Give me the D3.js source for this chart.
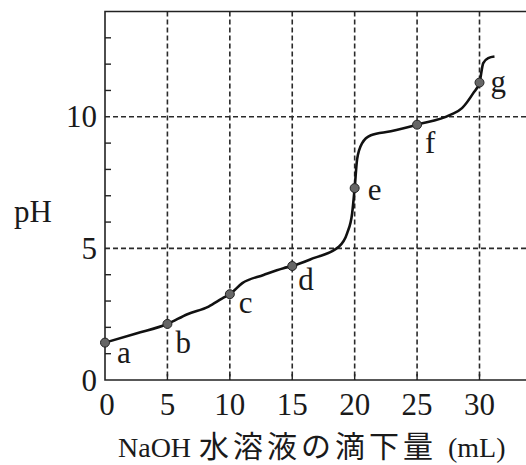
<!DOCTYPE html>
<html>
<head>
<meta charset="utf-8">
<script src="https://cdn.jsdelivr.net/npm/d3@7"></script>
<style>
    body { margin: 0; background: #fff; }
    svg { display: block; }
    .grid { stroke: #2a2a2a; stroke-width: 1.6; stroke-dasharray: 5,3; fill: none; }
    .frame { stroke: #222; stroke-width: 1.6; fill: none; }
    .tick { stroke: #222; stroke-width: 1.4; }
    .curve { stroke: #111; stroke-width: 2.6; fill: none; }
    .pt { fill: #666; stroke: #222; stroke-width: 1; }
    text { font-family: "Liberation Serif", "Times New Roman", serif; fill: #1a1a1a; }
</style>
</head>
<body>
<div id="chart"></div>
<script>
// titration curve
var volume = [0, 2.5, 5, 6.6, 8.3, 9.4, 10, 11, 12.7, 14.3, 15, 16.7, 18.7, 19.4, 19.8, 20,
              20.2, 20.6, 21.3, 22.9, 25, 27.7, 28.6, 29.5, 30, 30.3, 30.7, 31.2];
var pH = [1.42, 1.77, 2.13, 2.5, 2.79, 3.1, 3.26, 3.68, 3.99, 4.25, 4.33, 4.63, 5.05, 5.58, 6.34, 7.29,
          8.4, 9.0, 9.3, 9.45, 9.7, 10.08, 10.33, 10.9, 11.3, 12.04, 12.23, 12.29];

var pointNames = ["a", "b", "c", "d", "e", "f", "g"];
var pointVolume = [0, 5, 10, 15, 20, 25, 30];
var pointPH = [1.42, 2.13, 3.26, 4.33, 7.29, 9.7, 11.3];
// where each letter sits relative to its dot
var labelDx = [12, 8, 9, 6, 13, 8, 11];
var labelDy = [20, 29, 19, 24, 12, 28, 9];

var xTicks = [0, 5, 10, 15, 20, 25, 30];
var yTicks = [0, 5, 10];
var yMinorTicks = [1, 2, 3, 4, 6, 7, 8, 9, 11, 12, 13];

var width = 526, height = 465;
var plotLeft = 105, plotRight = 526, plotTop = 11.5, plotBottom = 380;

var x = d3.scaleLinear().domain([0, 30]).range([plotLeft, 479.5]);
var y = d3.scaleLinear().domain([0, 14]).range([plotBottom, plotTop]);

function drawGrid(svg) {
    svg.selectAll("line.vgrid")
        .data(xTicks.slice(1))
        .enter().append("line")
        .attr("class", "grid")
        .attr("x1", function (d) { return x(d); })
        .attr("x2", function (d) { return x(d); })
        .attr("y1", plotTop)
        .attr("y2", plotBottom);

    svg.selectAll("line.hgrid")
        .data(yTicks.slice(1))
        .enter().append("line")
        .attr("class", "grid")
        .attr("x1", plotLeft)
        .attr("x2", plotRight)
        .attr("y1", function (d) { return y(d); })
        .attr("y2", function (d) { return y(d); });
}

function drawAxes(svg) {
    svg.append("path")
        .attr("class", "frame")
        .attr("d", "M" + plotRight + "," + plotTop + "H" + plotLeft + "V" + plotBottom + "H" + plotRight);

    // small inner ticks on the pH axis
    svg.selectAll("line.ymin")
        .data(yMinorTicks)
        .enter().append("line")
        .attr("class", "tick")
        .attr("x1", plotLeft)
        .attr("x2", plotLeft + 6)
        .attr("y1", function (d) { return y(d); })
        .attr("y2", function (d) { return y(d); });

    svg.selectAll("line.xtk")
        .data(xTicks.slice(1))
        .enter().append("line")
        .attr("class", "tick")
        .attr("x1", function (d) { return x(d); })
        .attr("x2", function (d) { return x(d); })
        .attr("y1", plotBottom)
        .attr("y2", plotBottom - 6);

    svg.selectAll("text.xlab")
        .data(xTicks)
        .enter().append("text")
        .attr("x", function (d) { return x(d) + (d === 0 ? 2 : 0); })
        .attr("y", 415)
        .attr("text-anchor", "middle")
        .style("font-size", "31px")
        .text(function (d) { return d; });

    svg.selectAll("text.ylab")
        .data(yTicks)
        .enter().append("text")
        .attr("x", 97)
        .attr("y", function (d) { return y(d); })
        .attr("dy", "0.34em")
        .attr("text-anchor", "end")
        .style("font-size", "31px")
        .text(function (d) { return d; });

    svg.append("text")
        .attr("x", 14)
        .attr("y", 222)
        .style("font-size", "31px")
        .text("pH");

    var xl = svg.append("text")
        .attr("y", 457);
    xl.append("tspan")
        .attr("x", 118)
        .style("font-size", "28px")
        .text("NaOH");
    xl.append("tspan")
        .attr("x", 199)
        .style("font-family", "'Noto Sans CJK JP'")
        .style("font-size", "30px")
        .style("letter-spacing", "4px")
        .text("水溶液の滴下量");
    xl.append("tspan")
        .attr("x", 448)
        .style("font-size", "28px")
        .text("(mL)");
}

function drawCurve(svg) {
    var line = d3.line()
        .x(function (d, i) { return x(volume[i]); })
        .y(function (d) { return y(d); })
        .curve(d3.curveMonotoneX);

    svg.append("path")
        .attr("class", "curve")
        .attr("d", line(pH));

    svg.selectAll("circle.pt")
        .data(pointPH)
        .enter().append("circle")
        .attr("class", "pt")
        .attr("cx", function (d, i) { return x(pointVolume[i]); })
        .attr("cy", function (d) { return y(d); })
        .attr("r", 4.5);

    svg.selectAll("text.ptlab")
        .data(pointNames)
        .enter().append("text")
        .attr("x", function (d, i) { return x(pointVolume[i]) + labelDx[i]; })
        .attr("y", function (d, i) { return y(pointPH[i]) + labelDy[i]; })
        .style("font-size", "31px")
        .text(function (d) { return d; });
}

function init() {
    var svg = d3.select("#chart")
        .append("svg:svg")
        .attr("width", width)
        .attr("height", height);

    drawGrid(svg);
    drawAxes(svg);
    drawCurve(svg);
}

init();
</script>
</body>
</html>
